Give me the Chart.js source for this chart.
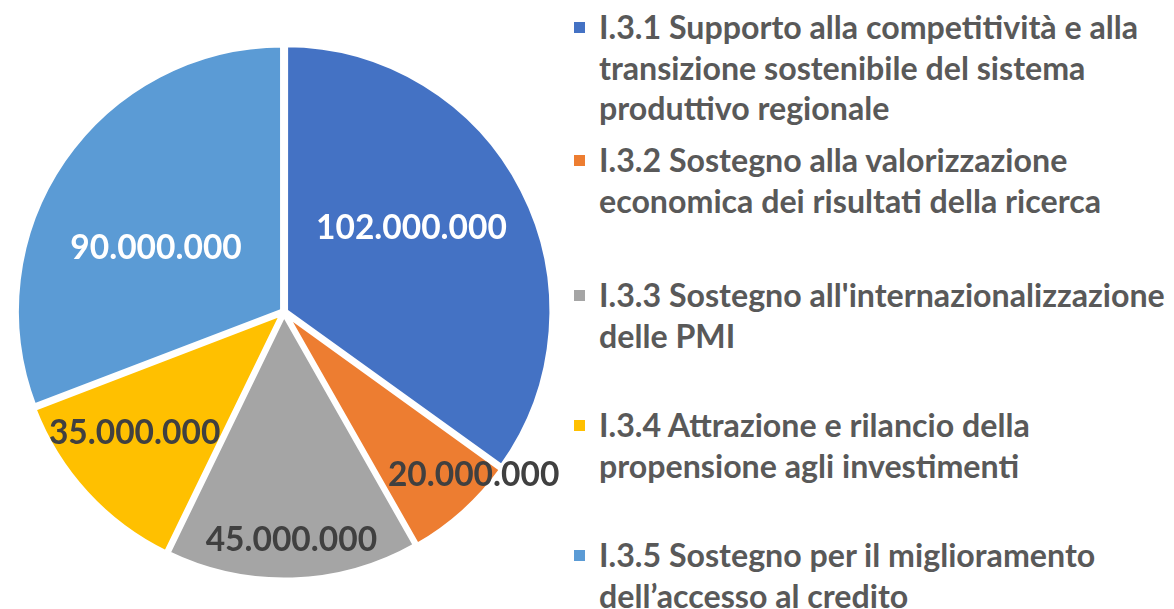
<!DOCTYPE html>
<html lang="it">
<head>
    <meta charset="UTF-8">
    <meta name="viewport" content="width=device-width, initial-scale=1.0">
    <script src="https://cdn.jsdelivr.net/npm/chart.js@4.4.1/dist/chart.umd.min.js"></script>
    <title>Ripartizione risorse</title>
    <style>
        body { margin: 0; background: #fff; }
        #wrap { position: relative; width: 1174px; height: 609px; overflow: hidden; }
        #chart { position: absolute; left: 0; top: 0; }
        .item { position: absolute; left: 574px; font-family: Lato, "Open Sans", sans-serif; font-weight: bold; color: #595959; }
        .box { position: absolute; left: 0; width: 11px; height: 11px; }
        .txt { position: absolute; left: 25px; white-space: nowrap; }
    </style>
</head>
<body>
    <div id="wrap">
        <canvas id="chart" width="568" height="609"></canvas>
        <div id="legend"></div>
    </div>

    <script>
        // dati del grafico
        const categories = [
            ["I.3.1 Supporto alla competitività e alla", "transizione sostenibile del sistema", "produttivo regionale"],
            ["I.3.2 Sostegno alla valorizzazione", "economica dei risultati della ricerca"],
            ["I.3.3 Sostegno all'internazionalizzazione", "delle PMI"],
            ["I.3.4 Attrazione e rilancio della", "propensione agli investimenti"],
            ["I.3.5 Sostegno per il miglioramento", "dell’accesso al credito"]
        ];
        const values = [102000000, 20000000, 45000000, 35000000, 90000000];
        const colors = ["#4472C4", "#ED7D31", "#A5A5A5", "#FFC000", "#5B9BD5"];
        const labelColors = ["#ffffff", "#404040", "#404040", "#404040", "#ffffff"];

        // posizione etichette: frazione del raggio e spostamento angolare (gradi)
        const labelRadius = [0.574, 0.94, 0.858, 0.723, 0.538];
        const labelShift = [-6.3, -7.4, 0, 3.5, -7.9];
        const legendTops = [27, 160, 295, 425, 555];
        const lineGap = 40.5;

        function formatValue(v) {
            return String(v).replace(/\B(?=(\d{3})+(?!\d))/g, ".");
        }

        function fitSize(text, weight, family, target) {
            const c = document.createElement("canvas").getContext("2d");
            c.font = weight + " 100px " + family;
            return 100 * target / c.measureText(text).width;
        }

        const fontFamily = "Lato";
        const labelSize = fitSize("102.000.000", "bold", fontFamily, 191);
        const legendSize = fitSize(categories[2][0], "bold", fontFamily, 566);

        // legenda html
        const legend = document.getElementById("legend");
        categories.forEach((lines, i) => {
            const item = document.createElement("div");
            item.className = "item";
            item.style.top = legendTops[i] + "px";
            item.style.fontSize = legendSize + "px";
            const box = document.createElement("div");
            box.className = "box";
            box.style.background = colors[i];
            box.style.top = "-5px";
            item.appendChild(box);
            lines.forEach((line, j) => {
                const t = document.createElement("div");
                t.className = "txt";
                t.textContent = line;
                t.style.top = (j * lineGap - legendSize * 0.62) + "px";
                item.appendChild(t);
            });
            legend.appendChild(item);
        });

        const sliceLabels = {
            id: "sliceLabels",
            afterDatasetsDraw(chart) {
                const ctx = chart.ctx;
                const meta = chart.getDatasetMeta(0);
                ctx.save();
                ctx.font = "bold " + labelSize + "px " + fontFamily;
                ctx.textAlign = "center";
                ctx.textBaseline = "middle";
                meta.data.forEach((arc, i) => {
                    const p = arc.getProps(["x", "y", "startAngle", "endAngle", "outerRadius"], true);
                    const mid = (p.startAngle + p.endAngle) / 2 + labelShift[i] * Math.PI / 180;
                    const r = p.outerRadius * labelRadius[i];
                    ctx.fillStyle = labelColors[i];
                    ctx.fillText(formatValue(values[i]), p.x + Math.cos(mid) * r, p.y + Math.sin(mid) * r);
                });
                ctx.restore();
            }
        };

        new Chart("chart", {
            type: "pie",
            data: {
                labels: categories,
                datasets: [{
                    data: values,
                    backgroundColor: colors,
                    borderColor: "#ffffff",
                    borderWidth: 5,
                    offset: 7
                }]
            },
            options: {
                responsive: false,
                animation: false,
                radius: 266,
                layout: { padding: { top: 15, bottom: 0, left: 0, right: 0 } },
                plugins: {
                    legend: { display: false },
                    tooltip: { enabled: false }
                }
            },
            plugins: [sliceLabels]
        });
    </script>
</body>
</html>
